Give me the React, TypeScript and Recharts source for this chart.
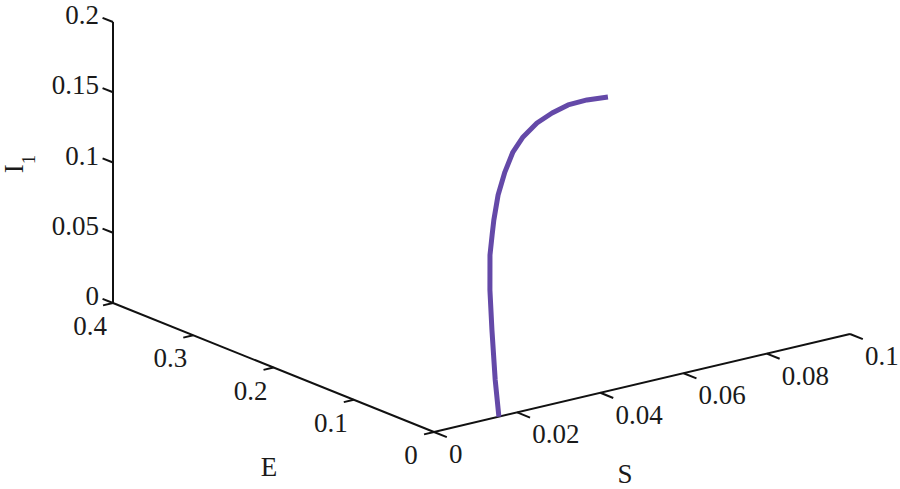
import { ScatterChart, Scatter, XAxis, YAxis, ReferenceLine } from 'recharts';

// axis ranges and ticks
const S_TICKS = [0, 0.02, 0.04, 0.06, 0.08, 0.1];
const S_LABELS = ['0', '0.02', '0.04', '0.06', '0.08', '0.1'];
const E_TICKS = [0, 0.1, 0.2, 0.3, 0.4];
const E_LABELS = ['0', '0.1', '0.2', '0.3', '0.4'];
const I_TICKS = [0, 0.05, 0.1, 0.15, 0.2];
const I_LABELS = ['0', '0.05', '0.1', '0.15', '0.2'];

// trajectory (S, E, I1)
const trajS = [0.0156, 0.0151, 0.0147, 0.0146, 0.015, 0.0159, 0.0167, 0.0183, 0.0207, 0.0236, 0.027, 0.0315, 0.0363, 0.0413, 0.047, 0.053];
const trajE = [0, 0.002, 0.004, 0.006, 0.008, 0.01, 0.012, 0.015, 0.019, 0.024, 0.029, 0.035, 0.041, 0.047, 0.053, 0.058];
const trajI = [0, 0.026, 0.0614, 0.0895, 0.1137, 0.1268, 0.1365, 0.1525, 0.1662, 0.1773, 0.1845, 0.1899, 0.1923, 0.1932, 0.1914, 0.1881];

const W = 900;
const H = 489;
const FONT = 'Liberation Serif, Times New Roman, serif';

// fixed camera of the 3d view (pixels per unit)
const project = (s: number, e: number, i: number) => ({
  x: 434 + 4160 * s - 802.5 * e,
  y: 432 - 980 * s - 322.5 * e - 1405 * i,
});

const S_MAX = S_TICKS[S_TICKS.length - 1];
const E_MAX = E_TICKS[E_TICKS.length - 1];
const I_MAX = I_TICKS[I_TICKS.length - 1];

const axes = [
  [project(0, 0, 0), project(S_MAX, 0, 0)],
  [project(0, 0, 0), project(0, E_MAX, 0)],
  [project(0, E_MAX, 0), project(0, E_MAX, I_MAX)],
];

const ticks = [
  ...S_TICKS.map((s) => [project(s, 0, 0), project(s, -0.016, 0)]),
  ...E_TICKS.map((e) => [project(0, e, 0), project(-0.0024, e, 0)]),
  ...I_TICKS.map((v) => [project(0, E_MAX, v), project(0, E_MAX + 0.013, v)]),
];

const sLabelData = S_TICKS.map((s, k) => {
  const p = project(s, 0, 0);
  return { x: p.x + 15, y: p.y + 31, label: S_LABELS[k], anchor: 'start' };
});
const eLabelData = E_TICKS.map((e, k) => {
  const p = project(0, e, 0);
  return { x: p.x - 23, y: p.y + 32, label: E_LABELS[k], anchor: 'middle' };
});
const iLabelData = I_TICKS.map((v, k) => {
  const p = project(0, E_MAX, v);
  return { x: p.x - 14, y: p.y + 2, label: I_LABELS[k], anchor: 'end' };
});
const labelData = [...sLabelData, ...eLabelData, ...iLabelData];

const curveData = trajS.map((s, k) => project(s, trajE[k], trajI[k]));

const titleData = [
  { x: 269, y: 476, label: 'E' },
  { x: 625, y: 483, label: 'S' },
];

const TickText = (props: any) => (
  <text
    x={props.cx}
    y={props.cy}
    textAnchor={props.payload.anchor || 'middle'}
    fontFamily={FONT}
    fontSize={27}
    fill="#1a1a1a"
  >
    {props.payload.label}
  </text>
);

const YTitle = (props: any) => (
  <text
    x={props.cx}
    y={props.cy}
    transform={`rotate(-90, ${props.cx}, ${props.cy})`}
    textAnchor="middle"
    fontFamily={FONT}
    fontSize={27}
    fill="#1a1a1a"
  >
    <tspan>I</tspan>
    <tspan dy={12} fontSize={19}>1</tspan>
  </text>
);

export default function App() {
  return (
    <div style={{ position: 'absolute', left: 0, top: 0, width: W, height: H, background: '#fff' }}>
      <ScatterChart width={W} height={H} margin={{ top: 0, right: 0, bottom: 0, left: 0 }}>
        <XAxis type="number" dataKey="x" domain={[0, W]} hide />
        <YAxis type="number" dataKey="y" domain={[0, H]} reversed hide />
        {axes.map((seg, k) => (
          <ReferenceLine key={'a' + k} segment={seg} stroke="#111" strokeWidth={2} ifOverflow="visible" />
        ))}
        {ticks.map((seg, k) => (
          <ReferenceLine key={'t' + k} segment={seg} stroke="#111" strokeWidth={2} ifOverflow="visible" />
        ))}
        <Scatter
          data={curveData}
          line={{ stroke: '#6449a8', strokeWidth: 5, strokeLinejoin: 'round', strokeLinecap: 'butt' }}
          lineType="joint"
          shape={() => <g />}
          isAnimationActive={false}
        />
        <Scatter data={labelData} shape={TickText} isAnimationActive={false} />
        <Scatter data={titleData} shape={TickText} isAnimationActive={false} />
        <Scatter data={[{ x: 23, y: 164 }]} shape={YTitle} isAnimationActive={false} />
      </ScatterChart>
    </div>
  );
}
